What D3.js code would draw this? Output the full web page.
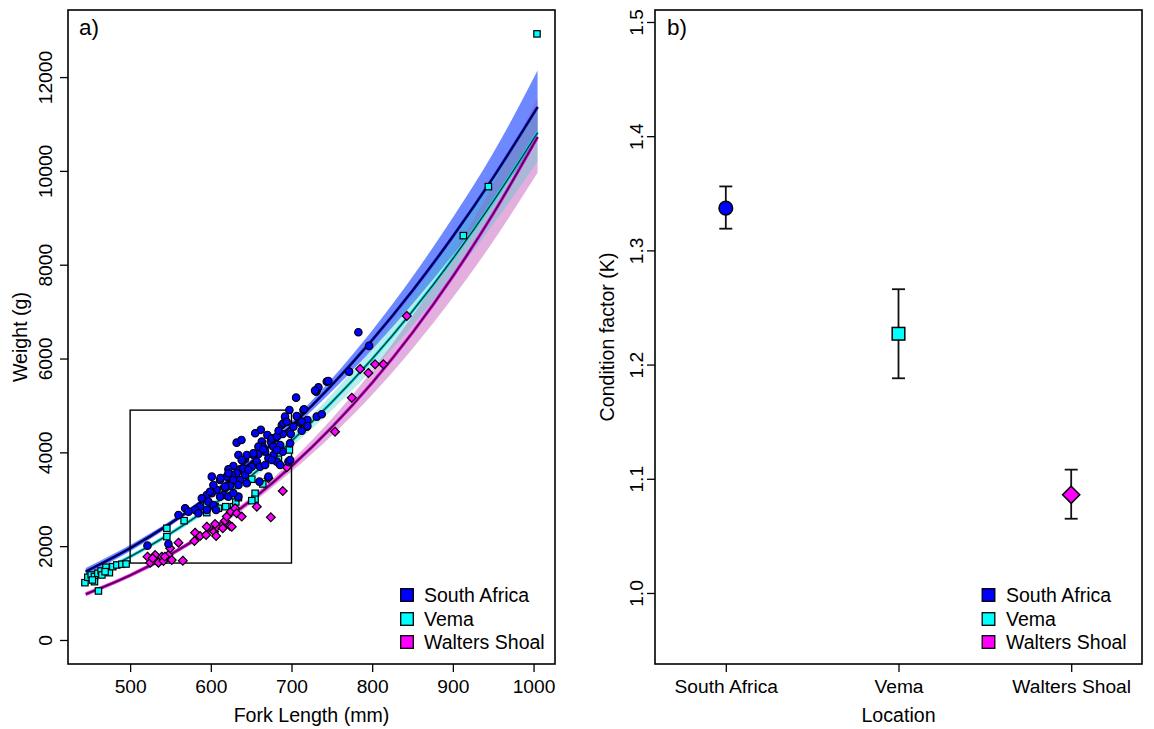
<!DOCTYPE html>
<html>
<head>
<meta charset="utf-8">
<script src="https://cdn.jsdelivr.net/npm/d3@7"></script>
<style>
  html, body { margin: 0; padding: 0; background: #fff; }
  svg { display: block; font-family: "Liberation Sans", Arial, sans-serif; }
</style>
</head>
<body>
<svg id="chart" width="1154" height="729"></svg>
<script>
// ---- Groups ----
const groups = ["South Africa", "Vema", "Walters Shoal"];
const groupColors = ["#0000ff", "#00ffff", "#ff00ff"];

// ---- Panel a: observed fork length (mm) and weight (g) ----
const saLength = [705.7,697.4,730.5,714.8,707.4,710.7,719.8,702.4,699.1,688,689.2,679.7,670.1,674.3,663.2,664.4,667.3,677.6,685.9,698.3,677.6,671.4,681.8,685.9,696.2,659,652.8,657,661,650.8,642.5,634.2,639.6,628,621.8,636.3,644.6,642.5,632.1,626,619.8,628,636.3,634.2,623.9,617.7,611.5,615.6,607.3,603.2,601.2,595,588.8,597,586.7,580.5,584.6,568.2,559.9,572.3,601.2,634.2,644.6,521.5,547.5,689.2,660.3,599,612,617.7,621.8,638.3,640.4,646.6,652.8,659,675.6,681.8,690,692,706.5,718.9,731.3,733.4,743.7,681.8,698.3,675.6,667.3,671.4,603.2,595,606.5,611.5,621.8,628,644.6,782.9,796.2,771.4,745.7,729.2,715.6,731.3,737.5,712.7,719.7,712.7,662,684,694,632,638,655,665];
const saWeight = [5166,4904,5294,4904,4761,4633,4691,4548,4392,4584,4392,4301,4371,4229,4229,4122,4015,4122,4158,4194,3945,3874,3802,3731,3802,3966,3945,3802,3695,3695,3853,3945,3817,3710,3640,3640,3640,3518,3554,3518,3482,3411,3411,3305,3283,3234,3411,3092,3198,3305,3127,3092,3020,2949,2842,2772,2701,2808,2665,2736,3482,3056,3945,2011,2047,4015,3376,3160,3450,3268,3554,3838,3660,3625,3981,4122,4300,4336,4620,4761,4776,4548,5330,5388,5508,4051,3838,3838,3731,3482,2878,2772,2772,3056,3056,3127,3341,6561,6269,5721,5522,5316,4919,4761,4812,4655,4563,4463,4480,4460,4650,4207,4264,4407,4066];

const vemaLength = [444,447.6,451.7,455.8,460,464,470,474.3,478.5,483.5,489.7,495,460.7,455.8,465,469,453.2,545.5,545.5,566.9,595,595,605.3,609.4,618.5,628,631,634.2,650.8,664.4,654.9,654.9,650.8,683.8,697.4,913,944,1004.3];
const vemaWeight = [1222,1337,1386,1350,1422,1471,1550,1435,1563,1599,1614,1620,1045,1243,1386,1456,1279,2381,2203,2544,2878,2715,2842,2808,2842,2842,2942,3034,3426,3326,3127,3000,2970,3853,4051,8620,9665,12921];

const wsLength = [521.5,531,535.1,524.8,539.2,547.5,551.6,549.6,559.9,565.3,541.3,580.5,579.7,586.7,594.2,595,604.1,606.6,607.4,614.8,617.7,619.8,624.8,623.9,630.1,632.1,638.3,657,671.4,689.2,674.4,694.2,605.3,626,754,774.7,785,795.3,803.6,813.9,842.9,531,543,528];
const wsWeight = [1777,1706,1649,1649,1777,1812,1706,1955,2075,1691,1684,2288,2111,2217,2239,2416,2309,2217,2416,2381,2544,2630,2736,2431,2808,2701,2630,2842,3447,3177,2615,3682,2473,2416,4441,5166,5778,5693,5878,5878,6908,1812,1777,1740];

// ---- Panel a: fitted length–weight curves with confidence bands ----
const fitLength = [445, 500, 550, 600, 650, 700, 750, 800, 850, 900, 950, 1005];
const saFit   = [1458, 1956, 2487, 3097, 3789, 4567, 5434, 6394, 7449, 8603, 9860, 11362];
const saLow   = [1380, 1890, 2435, 3050, 3730, 4480, 5300, 6190, 7160, 8210, 9350, 10650];
const saHigh  = [1536, 2025, 2540, 3145, 3850, 4655, 5570, 6600, 7745, 9005, 10380, 12140];
const vemaFit  = [1311, 1774, 2270, 2844, 3499, 4239, 5070, 5991, 7010, 8129, 9350, 10817];
const vemaLow  = [1262, 1730, 2220, 2780, 3410, 4120, 4900, 5760, 6700, 7740, 8860, 10200];
const vemaHigh = [1360, 1820, 2320, 2910, 3590, 4360, 5240, 6230, 7330, 8540, 9860, 11460];
const wsFit   = [977, 1377, 1822, 2353, 2977, 3703, 4535, 5482, 6552, 7751, 9086, 10722];
const wsLow   = [929, 1330, 1775, 2300, 2900, 3590, 4360, 5230, 6210, 7300, 8500, 9960];
const wsHigh  = [1026, 1425, 1870, 2410, 3055, 3820, 4715, 5745, 6910, 8225, 9710, 11540];

// ---- Panel a: highlighted length/weight window ----
const windowLength = [500, 700];
const windowWeight = [1640, 4900];

// ---- Panel a axis ticks ----
const lengthTicks = [500, 600, 700, 800, 900, 1000];
const weightTicks = [0, 2000, 4000, 6000, 8000, 10000, 12000];

// ---- Panel b: mean condition factor (K) with interval ----
const kMean  = [1.337, 1.227, 1.086];
const kLower = [1.319, 1.188, 1.065];
const kUpper = [1.356, 1.266, 1.108];
const kTicks = [1.0, 1.1, 1.2, 1.3, 1.4, 1.5];

// ---------------------------------------------------------------
const svg = d3.select("#chart");
svg.append("rect").attr("width", 1154).attr("height", 729).attr("fill", "#fff");

const tickFont = 19.2, labelFont = 19.6, legendFont = 19.5;
const plotTop = 10, plotBottom = 664;

// Panel a scales
const xA = d3.scaleLinear().domain([423, 1026.6]).range([68, 555]);
const yA = d3.scaleLinear().domain([-512, 13430]).range([plotBottom, plotTop]);
// Panel b scales
const xB = d3.scaleLinear().domain([0.59, 3.41]).range([655, 1142]);
const yB = d3.scaleLinear().domain([0.9378, 1.5105]).range([plotBottom, plotTop]);

function styleAxis(g) {
  g.select(".domain").remove();
  g.selectAll(".tick line").attr("stroke", "#000").attr("stroke-width", 1.3);
  g.selectAll(".tick text").attr("fill", "#000").attr("font-size", tickFont)
    .attr("font-family", "Liberation Sans, Arial, sans-serif");
}
function rotateYLabels(g, offset) {
  g.selectAll(".tick text")
    .attr("transform", "rotate(-90)")
    .attr("x", 0).attr("y", offset).attr("dy", 0)
    .attr("text-anchor", "middle");
}

// ================= Panel a =================
const pa = svg.append("g");

const bands = [
  { low: saLow, high: saHigh, fill: "#2a50ff", op: 0.68 },
  { low: wsLow, high: wsHigh, fill: "#b838b0", op: 0.4 },
  { low: vemaLow, high: vemaHigh, fill: "#40c8c8", op: 0.35 }
];
const area = d3.area().curve(d3.curveMonotoneX)
  .x((d, i) => xA(fitLength[i]))
  .y0(d => yA(d[0])).y1(d => yA(d[1]));
bands.forEach(b => {
  pa.append("path")
    .datum(b.low.map((v, i) => [v, b.high[i]]))
    .attr("d", area).attr("fill", b.fill).attr("fill-opacity", b.op).attr("stroke", "none");
});

const line = d3.line().curve(d3.curveMonotoneX)
  .x((d, i) => xA(fitLength[i])).y(d => yA(d));
// fitted curves: coloured rim with a dark core
const fitStyles = [
  { data: saFit,   rim: "#1a2cff", rimW: 3.0, core: "#000046", coreW: 2.0 },
  { data: vemaFit, rim: "#00e0e0", rimW: 3.0, core: "#00302f", coreW: 1.2 },
  { data: wsFit,   rim: "#e000e0", rimW: 3.2, core: "#3a0038", coreW: 1.3 }
];
fitStyles.forEach(s => {
  pa.append("path").datum(s.data).attr("d", line).attr("fill", "none")
    .attr("stroke", s.rim).attr("stroke-width", s.rimW);
  pa.append("path").datum(s.data).attr("d", line).attr("fill", "none")
    .attr("stroke", s.core).attr("stroke-width", s.coreW);
});

// window rectangle
pa.append("rect")
  .attr("x", xA(windowLength[0])).attr("y", yA(windowWeight[1]))
  .attr("width", xA(windowLength[1]) - xA(windowLength[0]))
  .attr("height", yA(windowWeight[0]) - yA(windowWeight[1]))
  .attr("fill", "none").attr("stroke", "#000").attr("stroke-width", 1.4);

// observations
const saPts = saLength.map((l, i) => [l, saWeight[i]]);
const vemaPts = vemaLength.map((l, i) => [l, vemaWeight[i]]);
const wsPts = wsLength.map((l, i) => [l, wsWeight[i]]);

pa.append("g").selectAll("rect").data(vemaPts).join("rect")
  .attr("x", d => xA(d[0]) - 3.2).attr("y", d => yA(d[1]) - 3.2)
  .attr("width", 6.4).attr("height", 6.4)
  .attr("fill", groupColors[1]).attr("stroke", "#000").attr("stroke-width", 1.2);

pa.append("g").selectAll("path").data(wsPts).join("path")
  .attr("d", d => {
    const x = xA(d[0]), y = yA(d[1]), r = 4.4;
    return `M${x},${y - r}L${x + r},${y}L${x},${y + r}L${x - r},${y}Z`;
  })
  .attr("fill", groupColors[2]).attr("stroke", "#000").attr("stroke-width", 1.2);

pa.append("g").selectAll("circle").data(saPts).join("circle")
  .attr("cx", d => xA(d[0])).attr("cy", d => yA(d[1])).attr("r", 3.7)
  .attr("fill", groupColors[0]).attr("stroke", "#000").attr("stroke-width", 1.2);

// axes
const axA = pa.append("g").attr("transform", `translate(0,${plotBottom})`)
  .call(d3.axisBottom(xA).tickValues(lengthTicks).tickSize(8).tickPadding(7).tickFormat(d3.format("d")));
styleAxis(axA);
const ayA = pa.append("g").attr("transform", "translate(68,0)")
  .call(d3.axisLeft(yA).tickValues(weightTicks).tickSize(8).tickFormat(d3.format("d")));
styleAxis(ayA);
rotateYLabels(ayA, -16);

pa.append("rect").attr("x", 68).attr("y", plotTop).attr("width", 555 - 68).attr("height", plotBottom - plotTop)
  .attr("fill", "none").attr("stroke", "#000").attr("stroke-width", 1.6);

pa.append("text").attr("x", 79).attr("y", 35).attr("font-size", 22.5).text("a)");
pa.append("text").attr("x", (68 + 555) / 2).attr("y", 722).attr("text-anchor", "middle")
  .attr("font-size", labelFont).text("Fork Length (mm)");
pa.append("text").attr("transform", "translate(27,337) rotate(-90)").attr("text-anchor", "middle")
  .attr("font-size", labelFont).text("Weight (g)");

// ================= Panel b =================
const pb = svg.append("g");
const capW = 6.5;
groups.forEach((gname, i) => {
  const x = xB(i + 1);
  pb.append("line").attr("x1", x).attr("x2", x).attr("y1", yB(kLower[i])).attr("y2", yB(kUpper[i]))
    .attr("stroke", "#111").attr("stroke-width", 1.8);
  [kLower[i], kUpper[i]].forEach(v => {
    pb.append("line").attr("x1", x - capW).attr("x2", x + capW).attr("y1", yB(v)).attr("y2", yB(v))
      .attr("stroke", "#111").attr("stroke-width", 1.8);
  });
  const y = yB(kMean[i]);
  if (i === 0) {
    pb.append("circle").attr("cx", x).attr("cy", y).attr("r", 6.8)
      .attr("fill", groupColors[0]).attr("stroke", "#000").attr("stroke-width", 1.5);
  } else if (i === 1) {
    pb.append("rect").attr("x", x - 6.3).attr("y", y - 6.3).attr("width", 12.6).attr("height", 12.6)
      .attr("fill", groupColors[1]).attr("stroke", "#000").attr("stroke-width", 1.5);
  } else {
    const r = 8.6;
    pb.append("path").attr("d", `M${x},${y - r}L${x + r},${y}L${x},${y + r}L${x - r},${y}Z`)
      .attr("fill", groupColors[2]).attr("stroke", "#000").attr("stroke-width", 1.5);
  }
});

const axB = pb.append("g").attr("transform", `translate(0,${plotBottom})`)
  .call(d3.axisBottom(xB).tickValues([1, 2, 3]).tickSize(8).tickPadding(7).tickFormat(d => groups[d - 1]));
styleAxis(axB);
const ayB = pb.append("g").attr("transform", "translate(655,0)")
  .call(d3.axisLeft(yB).tickValues(kTicks).tickSize(8).tickFormat(d3.format(".1f")));
styleAxis(ayB);
rotateYLabels(ayB, -12);

pb.append("rect").attr("x", 655).attr("y", plotTop).attr("width", 1142 - 655).attr("height", plotBottom - plotTop)
  .attr("fill", "none").attr("stroke", "#000").attr("stroke-width", 1.6);

pb.append("text").attr("x", 667).attr("y", 35).attr("font-size", 22.5).text("b)");
pb.append("text").attr("x", (655 + 1142) / 2).attr("y", 722).attr("text-anchor", "middle")
  .attr("font-size", labelFont).text("Location");
pb.append("text").attr("transform", "translate(614,337) rotate(-90)").attr("text-anchor", "middle")
  .attr("font-size", labelFont).text("Condition factor (K)");

// ================= Legends =================
function legend(g, sx, tx) {
  const rows = [595, 619, 642];
  groups.forEach((name, i) => {
    g.append("rect").attr("x", sx - 6.3).attr("y", rows[i] - 6.3).attr("width", 12.6).attr("height", 12.6)
      .attr("fill", groupColors[i]).attr("stroke", "#000").attr("stroke-width", 1.3);
    g.append("text").attr("x", tx).attr("y", rows[i]).attr("dy", "0.36em")
      .attr("font-size", legendFont).text(name);
  });
}
legend(pa, 407, 424);
legend(pb, 988.5, 1006);
</script>
</body>
</html>
